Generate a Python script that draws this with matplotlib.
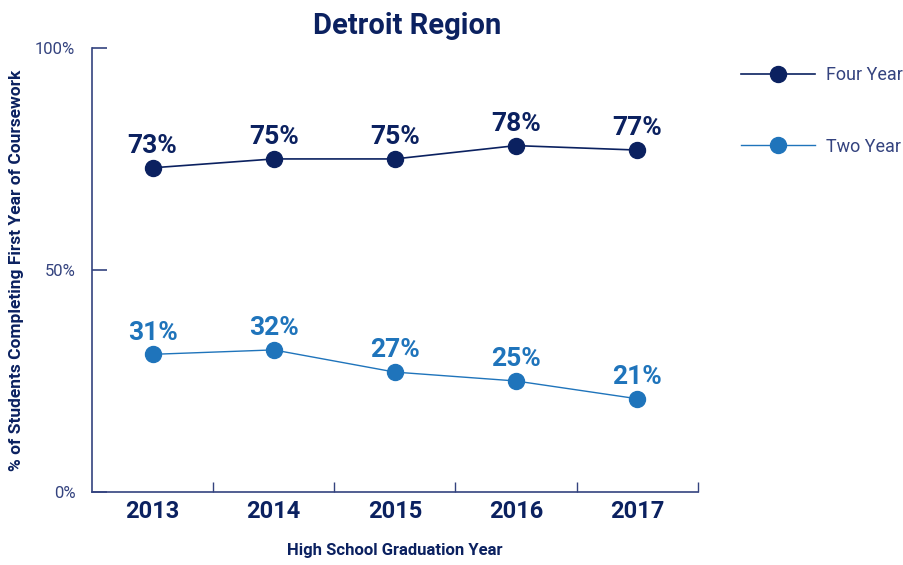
import matplotlib.pyplot as plt

years = ['2013', '2014', '2015', '2016', '2017']
four_year = [73, 75, 75, 78, 77]
two_year = [31, 32, 27, 25, 21]
yticks = [0, 50, 100]

navy = '#0b2160'
blue = '#1f74bb'
axis_col = '#34437f'

plt.rcParams['font.family'] = ['Roboto', 'DejaVu Sans']

fig = plt.figure(figsize=(9.04, 5.65), dpi=100)
ax = fig.add_axes([0.1018, 0.1292, 0.670, 0.786])

x = list(range(len(years)))
ax.plot(x, four_year, color=navy, lw=1.2, marker='o', ms=11.5, label='Four Year')
ax.plot(x, two_year, color=blue, lw=1.0, marker='o', ms=11.5, label='Two Year')

for xi, v in zip(x, four_year):
    ax.annotate(f'{v}%', (xi, v), xytext=(0, 7), textcoords='offset points',
                ha='center', va='bottom', fontsize=19, fontweight='bold', color=navy)
for xi, v in zip(x, two_year):
    ax.annotate(f'{v}%', (xi, v), xytext=(0, 7), textcoords='offset points',
                ha='center', va='bottom', fontsize=19, fontweight='bold', color=blue)

ax.set_xlim(-0.5, 4.5)
ax.set_ylim(0, 100)

for s in ['top', 'right']:
    ax.spines[s].set_visible(False)
for s in ['left', 'bottom']:
    ax.spines[s].set_color(axis_col)
    ax.spines[s].set_linewidth(1.2)

ax.set_yticks(yticks)
ax.set_yticklabels([f'{t}%' for t in yticks], fontsize=12, color=axis_col)
ax.tick_params(axis='y', direction='in', length=11, width=1.2, color=axis_col, pad=12)

ax.set_xticks([0.5, 1.5, 2.5, 3.5, 4.5])
ax.set_xticklabels([])
ax.tick_params(axis='x', which='major', direction='in', length=7, width=1, color=axis_col)
ax.set_xticks(x, minor=True)
ax.set_xticklabels(years, minor=True, fontsize=17, fontweight='bold', color=navy)
ax.tick_params(axis='x', which='minor', length=0, pad=6)

ax.set_xlabel('High School Graduation Year', fontsize=12, fontweight='bold',
              color=navy, labelpad=14)
ax.set_ylabel('% of Students Completing First Year of Coursework', fontsize=12.5,
              fontweight='bold', color=navy, labelpad=8)
ax.set_title('Detroit Region', fontsize=21, fontweight='bold', color=navy,
             pad=10, x=0.52)

leg = ax.legend(loc='upper left', bbox_to_anchor=(1.045, 0.995), frameon=False,
                handlelength=4.1, labelspacing=2.95, handletextpad=0.6,
                prop={'size': 13})
for t in leg.get_texts():
    t.set_color(axis_col)

fig.savefig('out.png', dpi=100)
